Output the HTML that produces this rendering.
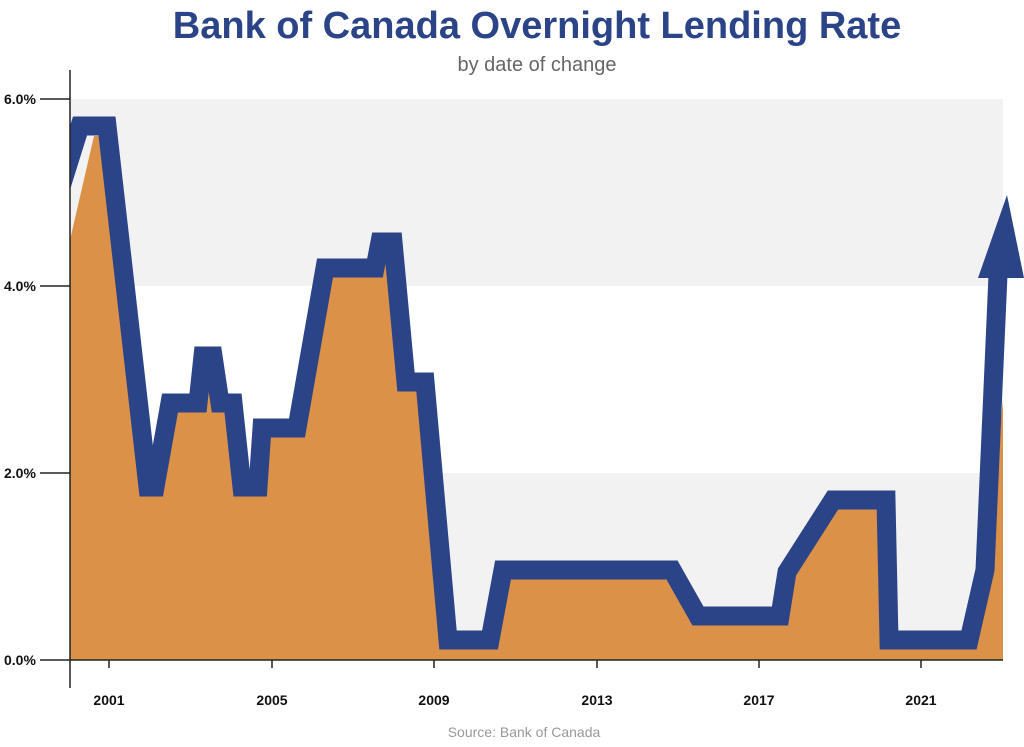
<!DOCTYPE html>
<html><head><meta charset="utf-8"><style>
body{margin:0;background:#fff;width:1024px;height:742px;overflow:hidden;font-family:"Liberation Sans",sans-serif}
</style></head><body>
<svg width="1024" height="742" xmlns="http://www.w3.org/2000/svg">
<defs><clipPath id="c"><rect x="70" y="0" width="960" height="742"/></clipPath></defs>
<text x="537" y="38" text-anchor="middle" font-family="Liberation Sans" font-weight="bold" font-size="38" fill="#2B4488">Bank of Canada Overnight Lending Rate</text>
<text x="537" y="71" text-anchor="middle" font-family="Liberation Sans" font-size="20" fill="#666">by date of change</text>
<rect x="70" y="99" width="933" height="187" fill="#f2f2f2"/>
<rect x="70" y="473" width="933" height="187" fill="#f2f2f2"/>
<polygon fill="#DB9148" points="70,240 94,136 100,136 148,496 162,496 172,403 198,403 205,356 213,356 220,403 233,403 243,496 260,496 265,426 297,426 327,263 372,263 380,239 393,239 410,379 425,379 450,637 490,637 503,566 672,566 698,613 780,613 787,566 838,496 885,496 893,637 968,637 985,566 1003,400 1003,660 70,660"/>
<g clip-path="url(#c)">
<polyline fill="none" stroke="#2B4488" stroke-width="19" stroke-linejoin="miter" points="60,190 80,126 107,126 148,487 155,487 170,403 198,403 203,356 213,356 220,403 233,403 242,487 258,487 262,428 297,428 325,268 375,268 380,242 393,242 406,382 425,382 448,640 490,640 503,570 672,570 698,616 780,616 787,572 833,500 886,500 889,640 969,640 985,570 998,275"/>
</g>
<polygon fill="#2B4488" points="1007,195 978,278 1024,278"/>
<line x1="70" y1="70" x2="70" y2="688" stroke="#222" stroke-width="1.5"/>
<line x1="40" y1="660" x2="1003" y2="660" stroke="#222" stroke-width="1.5"/>
<g stroke="#222" stroke-width="1.5">
<line x1="40" y1="99" x2="70" y2="99"/><line x1="40" y1="286" x2="70" y2="286"/><line x1="40" y1="473" x2="70" y2="473"/>
<line x1="109" y1="660" x2="109" y2="668"/><line x1="272" y1="660" x2="272" y2="668"/><line x1="434" y1="660" x2="434" y2="668"/><line x1="597" y1="660" x2="597" y2="668"/><line x1="759" y1="660" x2="759" y2="668"/><line x1="921" y1="660" x2="921" y2="668"/>
</g>
<g font-family="Liberation Sans" font-weight="bold" font-size="14" fill="#111">
<text x="4" y="104">6.0%</text><text x="4" y="291">4.0%</text><text x="4" y="478">2.0%</text><text x="4" y="665">0.0%</text>
<g text-anchor="middle"><text x="109" y="705">2001</text><text x="272" y="705">2005</text><text x="434" y="705">2009</text><text x="597" y="705">2013</text><text x="759" y="705">2017</text><text x="921" y="705">2021</text></g>
</g>
<text x="524" y="737" text-anchor="middle" font-family="Liberation Sans" font-size="14" fill="#999">Source: Bank of Canada</text>
</svg>
</body></html>
